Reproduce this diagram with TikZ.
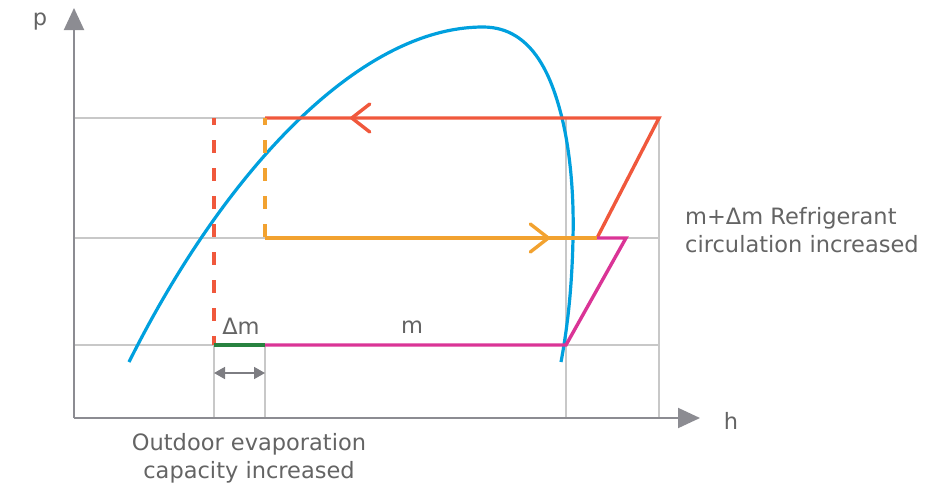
\documentclass[tikz,border=0pt]{standalone}
\usepackage{fontspec}
\setmainfont{DejaVu Sans}
\usetikzlibrary{arrows.meta,positioning,decorations.markings}
\definecolor{axisgray}{RGB}{140,140,146}
\definecolor{gridgray}{RGB}{200,200,200}
\definecolor{spangray}{RGB}{125,125,130}
\definecolor{domeblue}{RGB}{0,160,222}
\definecolor{hotred}{RGB}{240,88,60}
\definecolor{warmorange}{RGB}{242,162,48}
\definecolor{cyclepink}{RGB}{218,52,150}
\definecolor{deltagreen}{RGB}{40,130,64}
\definecolor{labelgray}{RGB}{100,100,100}

\begin{document}
\begin{tikzpicture}[x=1pt,y=-1pt,
  axis/.style={draw=axisgray,line width=2pt,-{Triangle[length=22pt,width=20pt]}},
  gridline/.style={draw=gridgray,line width=1.3pt},
  loopline/.style={line width=3.4pt,line join=miter},
  dashline/.style={line width=3.4pt,dash pattern=on 13pt off 15pt,dash phase=6pt},
  midarrow/.style={postaction={decorate},decoration={markings,
    mark=at position #1 with {\arrow{Straight Barb[length=18pt,width=28pt,line width=3.4pt,round]}}}},
  span/.style={draw=spangray,line width=1.6pt,{Triangle[length=11pt,width=12pt]}-{Triangle[length=11pt,width=12pt]}},
  txt/.style={text=labelgray,font=\fontsize{22.5}{28}\selectfont,inner sep=0pt}
]
\useasboundingbox (0,0) rectangle (947,490);
\coordinate (O) at (74,418);
\coordinate (ptip) at (74,8);
\coordinate (htip) at (700,418);
\coordinate (hiD) at (214,118);
\coordinate (hiL) at (265,118);
\coordinate (hiR) at (659,118);
\coordinate (midA) at (74,238);
\coordinate (midL) at (265,238);
\coordinate (midR) at (597,238);
\coordinate (midP) at (626,238);
\coordinate (loA) at (74,345);
\coordinate (loD) at (214,345);
\coordinate (loL) at (265,345);
\coordinate (loR) at (566,345);
\coordinate (spanL) at (214,373);
\coordinate (spanR) at (265,373);
\coordinate (domeL) at (129,362);
\coordinate (domeTop) at (483,27);
\coordinate (domeR) at (562,118);
\coordinate (domeBulge) at (573,238);
\coordinate (domeEnd) at (561,362);
\draw[gridline] (74,118) -- (hiR);
\draw[gridline] (midA) -- (659,238);
\draw[gridline] (loA) -- (659,345);
\draw[gridline] (loD) -- (214,418);
\draw[gridline] (loL) -- (265,418);
\draw[gridline] (566,118) -- (566,418);
\draw[gridline] (hiR) -- (659,418);
\draw[axis] (O) -- (ptip);
\draw[axis] (O) -- (htip);
\draw[domeblue,line width=3.2pt] (domeL) .. controls (225,170) and (360,27) .. (domeTop)
  .. controls (535,27) and (553,82) .. (domeR)
  .. controls (571,155) and (574,200) .. (domeBulge)
  .. controls (572,290) and (567,330) .. (domeEnd);
\draw[loopline,hotred,midarrow=444pt] (midR) -- (hiR) -- (hiL);
\draw[dashline,hotred] (hiD) -- (loD);
\draw[dashline,warmorange] (hiL) -- (midL);
\draw[loopline,warmorange,midarrow=285pt] (midL) -- (midR);
\draw[loopline,cyclepink] (midR) -- (midP) -- (loR) -- (loL);
\draw[loopline,deltagreen] (loL) -- (loD);
\draw[span] (spanL) -- (spanR);
\node[txt] (plabel) at (40,22) {p};
\node[txt] (hlabel) at (731,421) {h};
\node[txt] (dmlabel) at (241,326) {Δm};
\node[txt] (mlabel) at (412,327) {m};
\node[txt,anchor=west,align=left] (circlabel) at (685,230) {m+Δm Refrigerant\\circulation increased};
\node[txt,align=center] (evaplabel) at (249,458) {Outdoor evaporation\\capacity increased};
\end{tikzpicture}
\end{document}
